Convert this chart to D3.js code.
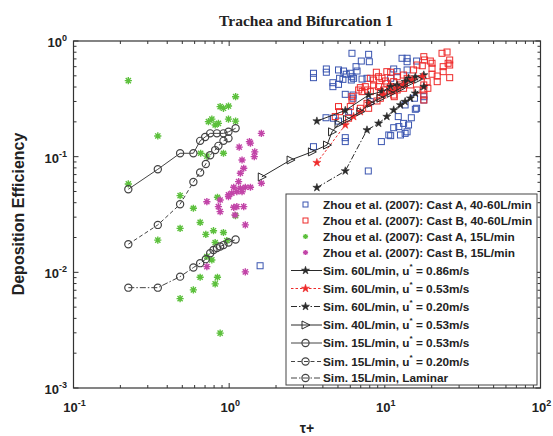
<!DOCTYPE html>
<html>
<head>
<meta charset="utf-8">
<script src="https://cdn.jsdelivr.net/npm/d3@7"></script>
<style>
  body { margin: 0; background: #fff; }
  text { font-family: Arial, "Liberation Sans", sans-serif; }
</style>
</head>
<body>
<svg id="chart" width="553" height="436"></svg>
<script>
// --- data: [tau+, deposition efficiency] ---
const zhouCastA_40_60 = [
  [6.15,0.783],[7.87,0.767],[7.95,0.662],[7.06,0.671],[4.21,0.573],[4.21,0.537],[5.04,0.562],[5.43,0.550],
  [5.65,0.516],[6.00,0.526],[6.15,0.491],[6.53,0.600],[6.63,0.550],[3.48,0.526],[3.48,0.482],[5.12,0.476],
  [5.38,0.466],[6.09,0.460],[6.30,0.476],[7.14,0.469],[7.68,0.476],[4.64,0.436],[4.64,0.403],[5.04,0.422],
  [5.57,0.346],[6.25,0.341],[6.25,0.320],[8.07,0.299],[4.68,0.215],[5.85,0.245],[5.57,0.146],[5.57,0.135],
  [3.48,0.122],[9.50,0.135],[10.6,0.154],[11.4,0.178],[12.2,0.222],[13.2,0.194],[14.2,0.188],[12.6,0.154],
  [13.9,0.164],[12.9,0.709],[13.9,0.709],[13.9,0.662],[11.4,0.573],[12.0,0.543],[13.9,0.562],[10.9,0.476],
  [15.7,0.257],[15.5,0.320],[16.0,0.671],[17.8,0.330],[17.8,0.309],[13.5,0.280],[16.0,0.262],[14.8,0.217],
  [12.3,0.182],[13.5,0.159],[10.9,0.152],[7.83,0.0752],[1.58,0.0114],[4.19,0.217],[5.04,0.203]
];
const zhouCastB_40_60 = [
  [8.82,0.537],[9.12,0.491],[8.07,0.476],[8.47,0.460],[10.3,0.543],[10.9,0.537],[9.59,0.476],[10.1,0.451],
  [6.96,0.395],[7.49,0.403],[6.79,0.377],[7.75,0.377],[7.14,0.365],[8.07,0.365],[8.47,0.417],[9.12,0.403],
  [9.36,0.365],[9.82,0.377],[10.9,0.403],[10.3,0.431],[6.15,0.330],[6.15,0.309],[5.04,0.271],[6.00,0.271],
  [6.96,0.262],[7.68,0.289],[7.87,0.262],[4.80,0.222],[5.85,0.215],[9.36,0.320],[8.91,0.303],[11.4,0.341],
  [12.0,0.377],[12.6,0.417],[13.2,0.390],[13.9,0.476],[13.2,0.508],[5.12,0.245],[17.8,0.732],[18.0,0.685],
  [20.1,0.642],[23.3,0.783],[25.1,0.803],[25.5,0.642],[21.7,0.498],[21.7,0.445],[17.8,0.417],[17.8,0.377],
  [17.8,0.309],[17.8,0.341],[19.6,0.671],[26.1,0.685],[26.1,0.620],[23.7,0.600],[23.7,0.543],[26.1,0.482],
  [20.1,0.581],[20.1,0.516],[18.7,0.445],[18.9,0.390],[16.1,0.620],[17.4,0.611],[15.3,0.562],[11.4,0.445],
  [11.4,0.390],[12.0,0.491],[14.6,0.417],[16.1,0.377],[11.5,0.330]
];
const zhouCastA_15 = [
  [0.225,0.454],[0.348,0.151],[0.225,0.0581],[1.10,0.330],[0.875,0.271],[0.919,0.262],[0.990,0.274],
  [0.774,0.211],[0.736,0.201],[0.813,0.188],[0.853,0.194],[0.990,0.211],[1.10,0.203],[0.656,0.107],
  [0.719,0.101],[0.919,0.107],[0.484,0.0460],[0.589,0.0358],[0.841,0.0446],[1.10,0.0309],[0.651,0.0270],
  [0.484,0.0240],[0.708,0.0213],[0.793,0.0229],[0.919,0.0221],[0.348,0.0190],[0.813,0.0181],[0.966,0.0188],
  [0.774,0.0128],[0.719,0.0137],[0.651,0.00907],[0.841,0.00907],[0.813,0.00794],[0.589,0.00705],
  [0.484,0.00593],[0.875,0.00298]
];
const zhouCastB_15 = [
  [1.61,0.159],[1.16,0.121],[1.37,0.131],[1.46,0.110],[1.45,0.100],[1.21,0.0936],[1.24,0.0794],[1.18,0.0719],
  [1.15,0.0608],[1.07,0.0544],[1.18,0.0533],[1.27,0.0544],[1.37,0.0544],[0.990,0.0467],[1.04,0.0483],
  [1.12,0.0498],[1.21,0.0498],[1.61,0.0589],[0.719,0.0408],[0.875,0.0422],[0.853,0.0370],[0.875,0.0335],
  [1.07,0.0365],[1.12,0.0370],[1.24,0.0370],[1.09,0.0313],[1.27,0.0257],[1.35,0.135],[0.719,0.0112],
  [1.27,0.0101],[0.990,0.0451]
];
const sim60_086 = [[3.66,0.203],[5.57,0.251],[7.87,0.341],[9.59,0.365],[10.9,0.403],[12.0,0.417],[13.5,0.445],[14.2,0.476],[15.7,0.489],[17.8,0.508]];
const sim60_053 = [[3.66,0.0887],[5.57,0.188],[6.30,0.222],[6.96,0.245],[7.87,0.289],[9.82,0.341],[10.9,0.365],[12.0,0.390],[13.2,0.417],[15.0,0.460],[17.4,0.491]];
const sim60_020 = [[3.66,0.0540],[5.57,0.0752],[7.68,0.170],[9.12,0.194],[10.3,0.222],[11.4,0.253],[12.6,0.280],[13.5,0.299],[14.6,0.320],[15.7,0.353],[17.8,0.403]];
const sim40_053 = [[1.62,0.0668],[2.48,0.0936],[3.40,0.110],[4.25,0.126],[4.58,0.164],[5.04,0.192],[5.71,0.210],[6.96,0.245],[8.07,0.289],[9.36,0.320],[10.9,0.353],[12.6,0.390],[14.2,0.431],[16.4,0.469]];
const sim15_053 = [[0.225,0.0523],[0.348,0.0778],[0.484,0.107],[0.589,0.107],[0.651,0.137],[0.701,0.148],[0.755,0.159],[0.834,0.159],[0.919,0.159],[0.990,0.164],[1.10,0.176]];
const sim15_020 = [[0.225,0.0175],[0.348,0.0257],[0.484,0.0388],[0.589,0.0604],[0.651,0.0730],[0.708,0.0865],[0.755,0.103],[0.813,0.114],[0.853,0.124],[0.919,0.137],[0.990,0.144]];
const sim15_lam = [[0.225,0.00737],[0.348,0.00737],[0.484,0.00918],[0.589,0.0110],[0.651,0.0120],[0.708,0.0130],[0.755,0.0146],[0.793,0.0156],[0.834,0.0162],[0.875,0.0167],[0.919,0.0172],[0.990,0.0181],[1.10,0.0192]];

const xMajor = [0.1, 1, 10, 100];
const xExp = ["-1", "0", "1", "2"];
const yMajor = [0.001, 0.01, 0.1, 1];
const yExp = ["-3", "-2", "-1", "0"];

const legendLabels = [
  "Zhou et al. (2007): Cast A, 40-60L/min",
  "Zhou et al. (2007): Cast B, 40-60L/min",
  "Zhou et al. (2007): Cast A, 15L/min",
  "Zhou et al. (2007): Cast B, 15L/min",
  ["Sim. 60L/min, u", " = 0.86m/s"],
  ["Sim. 60L/min, u", " = 0.53m/s"],
  ["Sim. 60L/min, u", " = 0.20m/s"],
  ["Sim. 40L/min, u", " = 0.53m/s"],
  ["Sim. 15L/min, u", " = 0.53m/s"],
  ["Sim. 15L/min, u", " = 0.20m/s"],
  ["Sim. 15L/min, Laminar", ""]
];

const svg = d3.select("#chart");
const pLeft = 73.5, pRight = 540.5, pTop = 41, pBottom = 388;
const x = d3.scaleLog().domain([0.1, 100]).range([pLeft, pRight]);
const y = d3.scaleLog().domain([0.001, 1]).range([pBottom, pTop]);

const BLUE = "#3a55b0", RED = "#ee2a2a", GREEN = "#5cc03c", MAGENTA = "#c244a8", INK = "#2a2a2a";

// marker shapes
function asteriskPath(r) {
  const k = r * 0.72;
  return `M${-r},0L${r},0M0,${-r}L0,${r}M${-k},${-k}L${k},${k}M${-k},${k}L${k},${-k}`;
}
const starPath = d3.symbol(d3.symbolStar, 20)();
const triPath = "M-3.5,-4L4.5,0L-3.5,4Z";

function drawMarker(g, kind, color) {
  if (kind === "square") {
    g.append("rect").attr("x", -3).attr("y", -3).attr("width", 6).attr("height", 6)
      .attr("fill", "none").attr("stroke", color).attr("stroke-width", 1);
  } else if (kind === "asterisk") {
    g.append("path").attr("d", asteriskPath(3.6)).attr("stroke", color).attr("stroke-width", 1.4).attr("fill", "none");
  } else if (kind === "star") {
    g.append("path").attr("d", starPath).attr("fill", color).attr("stroke", color).attr("stroke-width", 0.6);
  } else if (kind === "tri") {
    g.append("path").attr("d", triPath).attr("fill", "none").attr("stroke", color).attr("stroke-width", 1);
  } else if (kind === "circle") {
    g.append("circle").attr("r", 3.6).attr("fill", "none").attr("stroke", color).attr("stroke-width", 1.2);
  }
}

const scatterSeries = [
  {data: zhouCastA_40_60, kind: "square", color: BLUE},
  {data: zhouCastB_40_60, kind: "square", color: RED},
  {data: zhouCastA_15, kind: "asterisk", color: GREEN},
  {data: zhouCastB_15, kind: "asterisk", color: MAGENTA}
];
const lineSeries = [
  {data: sim60_086, kind: "star", color: INK, dash: null},
  {data: sim60_053, kind: "star", color: RED, dash: "2.5,2"},
  {data: sim60_020, kind: "star", color: INK, dash: "6,2,1.5,2"},
  {data: sim40_053, kind: "tri", color: INK, dash: null},
  {data: sim15_053, kind: "circle", color: "#444", dash: null},
  {data: sim15_020, kind: "circle", color: "#444", dash: "4,2.5"},
  {data: sim15_lam, kind: "circle", color: "#444", dash: "6,2,1.5,2"}
];

// title
svg.append("text").attr("x", 306).attr("y", 26).attr("text-anchor", "middle")
  .style("font-family", "'Liberation Serif', 'Times New Roman', serif")
  .style("font-weight", "bold").style("font-size", "15.5px").attr("fill", "#222")
  .text("Trachea and Bifurcation 1");

// ticks (inside, all four sides)
const axisG = svg.append("g").attr("stroke", "#333").attr("stroke-width", 1);
const minorX = [], minorY = [];
[0.1, 1, 10].forEach(d => { for (let m = 2; m <= 9; m++) minorX.push(d * m); });
[0.001, 0.01, 0.1].forEach(d => { for (let m = 2; m <= 9; m++) minorY.push(d * m); });
xMajor.forEach(v => {
  axisG.append("line").attr("x1", x(v)).attr("x2", x(v)).attr("y1", pBottom).attr("y2", pBottom - 5);
  axisG.append("line").attr("x1", x(v)).attr("x2", x(v)).attr("y1", pTop).attr("y2", pTop + 5);
});
minorX.forEach(v => {
  axisG.append("line").attr("x1", x(v)).attr("x2", x(v)).attr("y1", pBottom).attr("y2", pBottom - 3);
  axisG.append("line").attr("x1", x(v)).attr("x2", x(v)).attr("y1", pTop).attr("y2", pTop + 3);
});
yMajor.forEach(v => {
  axisG.append("line").attr("y1", y(v)).attr("y2", y(v)).attr("x1", pLeft).attr("x2", pLeft + 5);
  axisG.append("line").attr("y1", y(v)).attr("y2", y(v)).attr("x1", pRight).attr("x2", pRight - 5);
});
minorY.forEach(v => {
  axisG.append("line").attr("y1", y(v)).attr("y2", y(v)).attr("x1", pLeft).attr("x2", pLeft + 3);
  axisG.append("line").attr("y1", y(v)).attr("y2", y(v)).attr("x1", pRight).attr("x2", pRight - 3);
});
svg.append("rect").attr("x", pLeft).attr("y", pTop).attr("width", pRight - pLeft).attr("height", pBottom - pTop)
  .attr("fill", "none").attr("stroke", "#333").attr("stroke-width", 1.2);

// tick labels 10^n
function powLabel(px, py, exp, anchor) {
  const t = svg.append("text").attr("x", px).attr("y", py).attr("text-anchor", anchor)
    .style("font-weight", "bold").style("font-size", "13px").attr("fill", "#222");
  t.append("tspan").text("10");
  t.append("tspan").attr("dy", -6).style("font-size", "9px").text(exp);
}
xMajor.forEach((v, i) => powLabel(x(v) + 1, 411.5, xExp[i], "middle"));
yMajor.forEach((v, i) => powLabel(67, y(v) + 6, yExp[i], "end"));

// axis titles
svg.append("text").attr("transform", "translate(24,214) rotate(-90)").attr("text-anchor", "middle")
  .style("font-weight", "bold").style("font-size", "16px").attr("fill", "#222").text("Deposition Efficiency");
svg.append("text").attr("x", 307).attr("y", 433).attr("text-anchor", "middle")
  .style("font-weight", "bold").style("font-size", "14px").attr("fill", "#222").text("τ+");

// scatter data
const plot = svg.append("g");
scatterSeries.forEach(s => {
  s.data.forEach(d => {
    const g = plot.append("g").attr("transform", `translate(${x(d[0])},${y(d[1])})`);
    drawMarker(g, s.kind, s.color);
  });
});

// simulation lines
const line = d3.line().x(d => x(d[0])).y(d => y(d[1]));
lineSeries.forEach(s => {
  plot.append("path").attr("d", line(s.data)).attr("fill", "none").attr("stroke", s.color)
    .attr("stroke-width", 1).attr("stroke-dasharray", s.dash);
  s.data.forEach(d => {
    const g = plot.append("g").attr("transform", `translate(${x(d[0])},${y(d[1])})`);
    drawMarker(g, s.kind, s.color);
  });
});

// legend
const lg = svg.append("g");
lg.append("rect").attr("x", 286).attr("y", 194).attr("width", 251).attr("height", 191)
  .attr("fill", "#fff").attr("stroke", "#444").attr("stroke-width", 1);
const rowY = [204.5, 220.5, 236.5, 252.5, 270.5, 288.5, 306.5, 325, 343, 361.5, 378];
const legendStyles = scatterSeries.concat(lineSeries);
legendLabels.forEach((lab, i) => {
  const s = legendStyles[i], ry = rowY[i];
  if (i >= 4) {
    lg.append("line").attr("x1", 291).attr("x2", 322).attr("y1", ry).attr("y2", ry)
      .attr("stroke", s.color).attr("stroke-width", 1).attr("stroke-dasharray", s.dash);
  }
  const m = lg.append("g").attr("transform", `translate(305.5,${ry})`);
  if (s.kind === "square") {
    m.append("rect").attr("x", -2.5).attr("y", -2.5).attr("width", 5).attr("height", 5)
      .attr("fill", "none").attr("stroke", s.color);
  } else if (s.kind === "asterisk") {
    m.append("path").attr("d", asteriskPath(2.6)).attr("stroke", s.color).attr("stroke-width", 1.3);
  } else {
    drawMarker(m, s.kind, s.color);
  }
  const t = lg.append("text").attr("x", 323).attr("y", ry + 4.2)
    .style("font-weight", "bold").style("font-size", "11.8px").attr("fill", "#222");
  if (typeof lab === "string") {
    t.text(lab);
  } else {
    t.append("tspan").text(lab[0]);
    if (lab[1]) {
      t.append("tspan").attr("dy", -6).style("font-size", "8px").text("*");
      t.append("tspan").attr("dy", 6).text(lab[1]);
    }
  }
});
</script>
</body>
</html>
